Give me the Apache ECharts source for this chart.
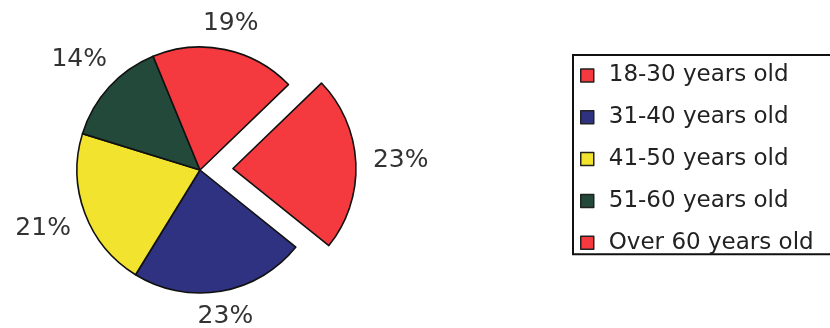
<!DOCTYPE html>
<html>
<head>
<meta charset="utf-8">
<script src="https://cdn.jsdelivr.net/npm/echarts@6/dist/echarts.min.js"></script>
<style>
  html, body { margin: 0; padding: 0; background: #ffffff; }
  #chart { width: 830px; height: 328px; }
</style>
</head>
<body>
<div id="chart"></div>
<script>
// Age groups and their share (percent)
const ageGroups = ['18-30 years old', '31-40 years old', '41-50 years old', '51-60 years old', 'Over 60 years old'];
const shares = [23, 23, 21, 14, 19];
const sliceColors = ['#f53a3f', '#2e3280', '#f2e42e', '#23493a', '#f53a3f'];
const pulledOut = ['18-30 years old'];

const FONT = '"DejaVu Sans", sans-serif';
const CENTER = [200, 170];
const RADIUS = 123;
const OFFSET = 33;
const START = 44;
const LABEL_GAP = 14;          // clear space between rim and label
const RING_IN = RADIUS + 4;
const RING_OUT = RADIUS + 52;  // 'inside' labels sit at the ring's mid radius

const total = shares.reduce((a, b) => a + b, 0);
// mid angle (radians, counter-clockwise from 3 o'clock) of each slice, clockwise layout
const midAngles = [];
shares.reduce((acc, v) => {
  midAngles.push((START - 360 * (acc + v / 2) / total) * Math.PI / 180);
  return acc + v;
}, 0);

const pieData = ageGroups.map((name, i) => ({
  name: name,
  value: shares[i],
  selected: pulledOut.includes(name),
  itemStyle: { color: sliceColors[i] }
}));

const chart = echarts.init(document.getElementById('chart'), null, { renderer: 'canvas' });

chart.setOption({
  animation: false,
  backgroundColor: '#ffffff',
  legend: {
    orient: 'vertical',
    left: 573,
    top: 55,
    data: ageGroups,
    selectedMode: false,
    icon: 'rect',
    itemWidth: 13,
    itemHeight: 13,
    itemGap: 18.8,
    padding: [9, 30, 0, 7],
    borderColor: '#111111',
    borderWidth: 2,
    backgroundColor: '#ffffff',
    itemStyle: { borderColor: '#222222', borderWidth: 1.5 },
    textStyle: {
      fontFamily: FONT,
      fontSize: 23,
      color: '#222222',
      lineHeight: 22,
      padding: [0, 0, 0, 10]
    }
  },
  series: [
    {
      // the slices themselves
      type: 'pie',
      center: CENTER,
      radius: RADIUS,
      startAngle: START,
      clockwise: true,
      selectedMode: 'single',
      selectedOffset: OFFSET,
      silent: true,
      label: { show: false },
      labelLine: { show: false },
      itemStyle: { borderColor: '#111111', borderWidth: 1.6 },
      emphasis: { disabled: true },
      data: pieData
    },
    {
      // transparent outer ring that carries the percentage labels
      type: 'pie',
      center: CENTER,
      radius: [RING_IN, RING_OUT],
      startAngle: START,
      clockwise: true,
      selectedMode: 'single',
      selectedOffset: OFFSET,
      silent: true,
      legendHoverLink: false,
      itemStyle: { color: 'rgba(0,0,0,0)', borderWidth: 0 },
      emphasis: { disabled: true },
      labelLine: { show: false },
      label: {
        show: true,
        position: 'inside',
        formatter: p => p.value + '%',
        fontFamily: FONT,
        fontSize: 25,
        color: '#333333'
      },
      // push each label outward so its nearest edge keeps a steady gap from the rim
      labelLayout: function (params) {
        const a = midAngles[params.dataIndex];
        const w = params.labelRect.width, h = params.labelRect.height;
        const want = RADIUS + LABEL_GAP + Math.abs(Math.cos(a)) * w / 2 + Math.abs(Math.sin(a)) * (h / 2 - 8);
        const extra = want - (RING_IN + RING_OUT) / 2;
        return { dx: Math.cos(a) * extra, dy: -Math.sin(a) * extra };
      },
      data: pieData.map(d => ({ name: d.name, value: d.value, selected: d.selected }))
    }
  ]
});
</script>
</body>
</html>
